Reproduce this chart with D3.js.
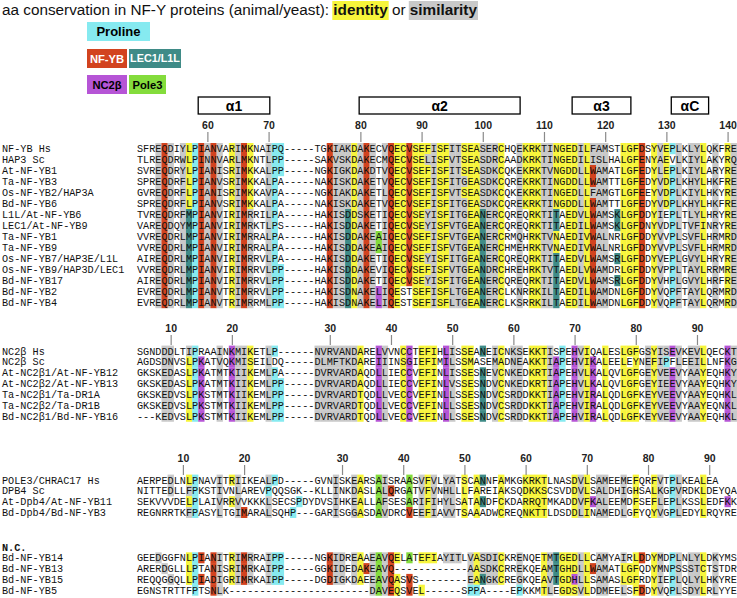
<!DOCTYPE html>
<html><head><meta charset="utf-8">
<script src="https://cdn.jsdelivr.net/npm/d3@7/dist/d3.min.js"></script>
<style>body{margin:0;background:#fff;}svg{display:block;}</style>
</head><body>
<svg id="chart" width="737" height="598"></svg>
<script>
// ================= DATA =================
const b1Names = ["NF-YB Hs","HAP3 Sc","At-NF-YB1","Ta-NF-YB3","Os-NF-YB2/HAP3A","Bd-NF-YB6","L1L/At-NF-YB6","LEC1/At-NF-YB9","Ta-NF-YB1","Ta-NF-YB9","Os-NF-YB7/HAP3E/L1L","Os-NF-YB9/HAP3D/LEC1","Bd-NF-YB17","Bd-NF-YB2","Bd-NF-YB4"];
const b1Seqs = [
"SFREQDIYLPIANVARIMKNAIPQ-----TGKIAKDAKECVQECVSEFISFITSEASERCHQEKRKTINGEDILFAMSTLGFDSYVEPLKLYLQKFRE",
"TLREQDRWLPINNVARLMKNTLPP-----SAKVSKDAKECMQECVSELISFVTSEASDRCAADKRKTINGEDILISLHALGFENYAEVLKIYLAKYRQ",
"SVREQDRYLPIANISRIMKKALPP-----NGKIGKDAKDTVQECVSEFISFITSEASDKCQKEKRKTVNGDDLLWAMATLGFEDYLEPLKIYLARYRE",
"SPREQDRFLPIANVSRIMKKALPA-----NAKISKDAKETVQECVSEFISFITGEASDKCQREKRKTINGDDLLWAMTTLGFEDYVDPLKHYLHKFRE",
"GVREQDRFLPIANISRIMKKAVPA-----NGKIAKDAKETLQECVSEFISFVTSEASDKCQKEKRKTINGEDLLFAMGTLGFEEYVDPLKIYLHKYRE",
"SPREQDRFLPIANVSRIMKKALPA-----NAKISKDAKETVQECVSEFISFITGEASDKCQREKRKTINGDDLLWAMTTLGFEDYVDPLKHYLHKFRE",
"TVREQDRFMPIANVIRIMRRILPA-----HAKISDDSKETIQECVSEYISFITGEANERCQREQRKTITAEDVLWAMSKLGFDDYIEPLTLYLHRYRE",
"VAREQDQYMPIANVIRIMRKTLPS-----HAKISDDAKETIQECVSEYISFVTGEANERCQREQRKTITAEDILWAMSKLGFDNYVDPLTVFINRYRE",
"VVREQDRLMPIANVIRIMRRALPA-----HAKISDDAKEAIQECVSEFISFVTGEANERCRMQHRKTVNAEDIVWALNRLGFDDYVVPLSVFLHRMRD",
"VVREQDRLMPIANVIRIMRRALPA-----HAKISDDAKEAIQECVSEFISFVTGEANERCHMEHRKTVNAEDIVWALNRLGFDDYVVPLSVFLHRMRD",
"AIREQDRLMPIANVIRIMRRVLPA-----HAKISDDAKETIQECVSEYISFITGEANERCQREQRKTITAEDVLWAMSRLGFDDYVEPLGVYLHRYRE",
"VVREQDRLMPIANVIRIMRRVLPP-----HAKISDDAKEVIQECVSEFISFVTGEANDRCHREHRKTVTAEDLVWAMDRLGFDDYVPPLTAYLRRMRE",
"AIREQDRLMPIANVIRIMRRVLPP-----HAKISDDAKETIQECVSEYISFITGEANERCQREQRKTITAEDVLWAMSRLGFDDYVHPLGVYLHRFRE",
"EVREQDRLMPIANVTRIMRRVLPP-----HAKISDNAKELIQESTSEFISFLTGEANERCLKNRRKILTAEDILWAMDNLGFDDYVQPFTAYLQRMRD",
"EVREQDRLMPIANVTRIMRRMLPP-----HAKISDNAKELIQESTSEFISFLTGEANERCLKSRRKILTAEDILWAMDNLGFDDYVQPFTAYLQRMRD"];
const b1TickCols = [11,21,36,46,56,66,76,86,96];
const b1TickLabels = ["60","70","80","90","100","110","120","130","140"];
const helixNames = ["α1","α2","α3","αC"];
const helixStart = [10.0,36.3,71.1,87.3];
const helixEnd = [21.7,62.6,80.7,93.4];
// colour codes: g grey, y yellow (identity), r red (NF-YB), c cyan, p cyan if Pro, t teal (LEC1/L1L), m magenta (NC2b), l green (Pole3), . none
const b1ColA = ["...grg.gyc","rgrg.ygry.",".gpp......",".rgggygrg.","gryyryyygy","yggyyygggy","..gyyyggyy","yygyggg..y","yyr.ygypg.","ggy.g.yg"].join("");
const b1ColB = ["...grg.gtc","rgrg.ygrg.",".gpp......",".rggtygrg.","gryyryyygy","ygggyytggy","..g.yyggt.","yygyrgg.ty","yyr.yg.pg.","ggy.g.yg"].join("");
const b1Over = [[0,23,"c"],[2,74,"r"],[3,74,"r"],[5,74,"r"],[3,53,"g"],[5,53,"g"],[1,47,"g"],[6,47,"g"],[7,47,"g"],[10,47,"g"],[12,47,"g"],[8,39,"l"],[9,39,"l"],[13,39,"m"],[14,39,"m"],[13,43,"."],[13,44,"."],[14,43,"."],[14,44,"."],[8,68,"y"],[9,68,"y"],[8,78,"."],[9,78,"."],[11,78,"."],[13,78,"."],[14,78,"."]];

const b2Names = ["NC2β Hs","NC2β Sc","At-NC2β1/At-NF-YB12","At-NC2β2/At-NF-YB13","Ta-NC2β1/Ta-DR1A","Ta-NC2β2/Ta-DR1B","Bd-NC2β1/Bd-NF-YB16"];
const b2Seqs = [
"SGNDDDLTIPRAAINKMIKETLP------NVRVANDARELVVNCCTEFIHLISSEANEICNKSEKKTISPEHVIQALESLGFGSYISEVKEVLQECKT",
"AGDSDNVSLPKATVQKMISEILDQ-----DLMFTKDAREIIINSGIEFIMILSSMASEMADNEAKKTIAPEHVIKALEELEYNEFIPFLEEILLNFKG",
"GKSKEDASLPKATMTKIIKEMLPA-----DVRVARDAQDLLIECCVEFINLISSESNEVCNKEDKRTIAPEHVLKALQVLGFGEYVEEVYAAYEQHKY",
"GKSKEDASLPKATMTKIIKEMLPP-----DVRVARDAQDLLIECCVEFINLVSSESNDVCNKEDKRTIAPEHVLKALQVLGFGEYIEEVYAAYEQHKY",
"GKSKEDVSLPKSTMTKIIKEMLPP-----DVRVARDTQDLLVECCVEFINLLSSESNDVCSRDDKKTIAPEHVIRALQDLGFKEYVEEVYAAYEQHKL",
"GKSKEDVSLPKSTMTKIIKEMLPP-----DVRVARDTQDLLVECCVEFINLLSSESNDVCSRDDKKTIAPEHVIRALQDLGFKEYVEEVYAAYEQNKL",
"---KEDVSLPKSTMTKIIKEMLPP-----DVRVARDTQDLLVECCVEFINLLSSESNDVCSRDDKKTIAPEHVIRALQDLGFKEYVEEVYAAYEQHKL"];
const b2TickCols = [5,15,31,41,51,61,71,81,91];
const b2TickLabels = ["10","20","30","40","50","60","70","80","90"];
const b2Col = ["....gg..yc","m..g.mggy.",".gpp.....g","ggggggy..m","g..ym.yyy.","mg.yy.t.gy",".gg.yyygmp",".mgym.y..y","yy.gyggmg.","ggy...mg"].join("");
const b2Over = [[0,10,"."],[0,8,"g"],[1,56,"."],[1,80,"."],[1,86,"c"],[1,87,"."],[0,68,"."],[0,74,"."]];

const b3Names = ["POLE3/CHRAC17 Hs","DPB4 Sc","At-Dpb4/At-NF-YB11","Bd-Dpb4/Bd-NF-YB3"];
const b3Seqs = [
"AERPEDLNLPNAVITRIIKEALPD-----GVNISKEARSAISRAASVFVLYATSCANNFAMKGKRKTLNASDVLSAMEEMEFQRFVTPLKEALEA",
"NITTEDLLFPKSTIVNLAREVPQQSGK--KLLINKDASLALQRGATVFVNHLLLFAREIAKSQDKKSCSVDDVLSALDHIGHSALKGPVRDKLDEYQA",
"SEKVVVDELPLAIVRRVVKKKLSECSPDYDVSIHKEALLAFSESARIFIHYLSATANDFCKDARRQTMKADDVFKALEEMDFSEFLEPLKSSLEDFKK",
"REGNRRTKFPASYLTGIMARALSQHP---GARISGGASDAVDRCVEEFIAVVTSAAADWCREQNKTTLDSDDLINAMEDLGFYQYVGPLEDYLRQYRE"];
const b3TickCols = [7,17,33,43,53,63,73,83,93];
const b3TickLabels = ["10","20","30","40","50","60","70","80","90"];
const b3Col = [".....g..yc","...g.yg...",".gp.......","..g..gy..l","g...l.gyg.","gg.y.yt..y","...yyyy...",".ygy.gg..g",".y..yg.pg.","..y....."].join("");
const b3Over = [[3,17,"r"],[1,41,"r"],[3,44,"r"],[1,56,"."],[3,56,"."],[2,74,"m"],[2,96,"m"],[3,25,"c"],[2,26,"c"],[1,21,"c"],[1,8,"g"],[3,8,"g"],[2,5,"."],[3,5,"."],[1,15,"."],[3,15,"."]];

const b4Names = ["Bd-NF-YB14","Bd-NF-YB13","Bd-NF-YB15","Bd-NF-YB5"];
const b4Seqs = [
"GEEDGGFNLPIANITRIMRRAIPP-----NGKIDREAAEAVQELATEFIAYITLVASDICKRENQETMTGEDLLCAMYAIRLDDYMDPLNLYLDKYMS",
"ARERDGLLLPTANISRIMRKAIPP-----GGKIDEDAKEAVQ------------AASDKCRREKQEAMTGHDLLWAMATLGFQDYMNPSSSTCTSTDR",
"REQQGGQLLPIADIGRIMRKAIPP-----DGDIGKDAEEAVQASVS--------EANGKCREGKQEAVTGDHLLSAMASLGFRDYIEPLQLYLHKYRE",
"EGNSTRTTFPTSNLK-----------------------DAVEQSVEL------SPPA----EPKKMTLEGDSVLDDMEELSFDDYVQPLSDYLRLYYE"];
const b4Col = ["...g....yc","r.rg.ygrg.",".gpp......",".rgg.gy.gl","gry.l.yyy.","ggg.gygggy","..g...ygty","yygy.gg..g",".yr.yg.pg.","ggy.g..."].join("");
const b4Over = [[1,3,"."],[2,3,"."],[3,3,"."],[1,4,"g"],[2,5,"g"],[1,10,"."],[3,10,"."],[3,8,"."],[1,37,"r"],[2,44,"r"],[3,44,"r"],[2,56,"t"],[3,54,"c"],[3,55,"c"],[3,56,"."],[3,62,"c"],[3,68,"."],[2,71,"m"],[1,74,"r"],[1,79,"y"],[2,79,"y"],[1,80,"y"],[2,80,"y"],[1,82,"."],[2,82,"."]];

const legendLabels = ["Proline","NF-YB","LEC1/L1L","NC2β","Pole3"];
const legendCodes = ["c","r","t","m","l"];

// ================= DRAWING =================
const svg = d3.select("#chart");
const CW = 6.12, X0 = 137, NCOL = 98;
const MONO = "'Liberation Mono','Courier New',monospace";
const SANS = "'Liberation Sans',Arial,Helvetica,sans-serif";
const x = d3.scaleLinear().domain([0, NCOL]).range([X0, X0 + NCOL * CW]);
const fill = d3.scaleOrdinal()
  .domain(["g","y","r","c","p","t","m","l"])
  .range(["#c9c9c9","#f7f53b","#d2431f","#86eaf0","#86eaf0","#3f8b87","#b655d6","#84dc3c"]);

svg.append("rect").attr("width",737).attr("height",598).attr("fill","#fff");

// title
const title = svg.append("text").attr("x",2).attr("y",15).attr("font-family",SANS).attr("font-size",15.3).attr("fill","#111");
title.append("tspan").text("aa conservation in NF-Y proteins (animal/yeast): ");
title.append("tspan").attr("font-weight","bold").text("identity");
title.append("tspan").text(" or ");
title.append("tspan").attr("font-weight","bold").text("similarity");
const tnode = title.node();
const spans = title.selectAll("tspan").nodes();
function spanBox(idx){
  let start = 0; for(let k=0;k<idx;k++) start += spans[k].textContent.length;
  const a = tnode.getStartPositionOfChar(start);
  const b = tnode.getEndPositionOfChar(start + spans[idx].textContent.length - 1);
  return [a.x, b.x];
}
[[1,"y"],[3,"g"]].forEach(([i,code])=>{
  const [a,b] = spanBox(i);
  svg.insert("rect","text").attr("x",a-1).attr("y",1).attr("width",b-a+2).attr("height",19).attr("fill",fill(code));
});

// legend boxes
const legendPos = [[87,22,63,19],[87,49,40,19],[129,49,52,19],[87,75,40,19],[129,75,37,19]];
const legendFont = [13,11.2,10.8,11.2,11.2];
const lg = svg.append("g");
legendLabels.forEach((lab,i)=>{
  const [lx,ly,lw,lh] = legendPos[i];
  lg.append("rect").attr("x",lx).attr("y",ly).attr("width",lw).attr("height",lh).attr("fill",fill(legendCodes[i]));
  lg.append("text").attr("x",lx+lw/2).attr("y",ly+lh/2+legendFont[i]*0.36).attr("text-anchor","middle")
    .attr("font-family",SANS).attr("font-weight","bold").attr("font-size",legendFont[i])
    .attr("fill",(legendCodes[i]==="r"||legendCodes[i]==="t")?"#fff":"#000").text(lab);
});

function drawBlock(cfg){
  const g = svg.append("g");
  const n = cfg.names.length;
  const y = d3.scaleBand().domain(d3.range(n)).range([cfg.top, cfg.top + cfg.rowH * n]);
  const cells = [];
  cfg.seqs.forEach((s,r)=>{
    const tmpl = cfg.template(r);
    for(let c=0;c<s.length;c++){
      let code = tmpl[c];
      const ov = cfg.over.find(o=>o[0]===r && o[1]===c);
      if(ov) code = ov[2];
      const aa = s[c];
      if(!code || code==="." || aa==="-") continue;
      if(code==="p" && aa!=="P") continue;
      cells.push({r,c,code});
    }
  });
  g.selectAll("rect.cell").data(cells).join("rect").attr("class","cell")
    .attr("x",d=>x(d.c)).attr("y",d=>y(d.r))
    .attr("width",CW+0.2).attr("height",y.bandwidth()+0.2)
    .attr("fill",d=>fill(d.code));
  g.selectAll("text.seq").data(cfg.seqs).join("text").attr("class","seq")
    .attr("x",x(0)).attr("y",(d,i)=>y(i)+y.bandwidth()/2+3.6)
    .attr("font-family",MONO).attr("font-size",10.2)
    .attr("textLength",d=>d.length*CW).attr("lengthAdjust","spacing")
    .attr("fill","#111").text(d=>d);
  g.selectAll("text.name").data(cfg.names).join("text").attr("class","name")
    .attr("x",2).attr("y",(d,i)=>y(i)+y.bandwidth()/2+3.6)
    .attr("font-family",MONO).attr("font-size",10.2).attr("fill","#111").text(d=>d);
  if(cfg.tickCols){
    const ax = d3.axisTop(x).tickValues(cfg.tickCols.map(c=>c+0.5))
      .tickFormat((d,i)=>cfg.tickLabels[i]).tickSize(10).tickPadding(3);
    const ag = g.append("g").attr("transform",`translate(0,${cfg.axisY})`).call(ax);
    ag.select(".domain").remove();
    ag.selectAll(".tick line").attr("stroke","#8a8a8a").attr("stroke-width",1.2);
    ag.selectAll(".tick text").attr("font-family",SANS).attr("font-weight","bold").attr("font-size",10.5).attr("fill","#222");
  }
}

drawBlock({names:b1Names, seqs:b1Seqs, template:r=>r<6?b1ColA:b1ColB, over:b1Over, top:143, rowH:11.0, tickCols:b1TickCols, tickLabels:b1TickLabels, axisY:142});
drawBlock({names:b2Names, seqs:b2Seqs, template:()=>b2Col, over:b2Over, top:345.6, rowH:10.85, tickCols:b2TickCols, tickLabels:b2TickLabels, axisY:345});
drawBlock({names:b3Names, seqs:b3Seqs, template:()=>b3Col, over:b3Over, top:474.6, rowH:10.8, tickCols:b3TickCols, tickLabels:b3TickLabels, axisY:475});
drawBlock({names:b4Names, seqs:b4Seqs, template:()=>b4Col, over:b4Over, top:552.3, rowH:10.8});

svg.append("text").attr("x",2).attr("y",550.5).attr("font-family",MONO).attr("font-weight","bold").attr("font-size",10.2).attr("fill","#111").text("N.C.");

// helix boxes
const hg = svg.append("g");
helixNames.forEach((h,i)=>{
  hg.append("rect").attr("x",x(helixStart[i])).attr("y",97).attr("width",x(helixEnd[i])-x(helixStart[i])).attr("height",17)
    .attr("fill","#fff").attr("stroke","#000").attr("stroke-width",1.3);
  hg.append("text").attr("x",(x(helixStart[i])+x(helixEnd[i]))/2).attr("y",110.5).attr("text-anchor","middle")
    .attr("font-family",SANS).attr("font-weight","bold").attr("font-size",14).attr("fill","#000").text(h);
});
</script>
</body></html>
